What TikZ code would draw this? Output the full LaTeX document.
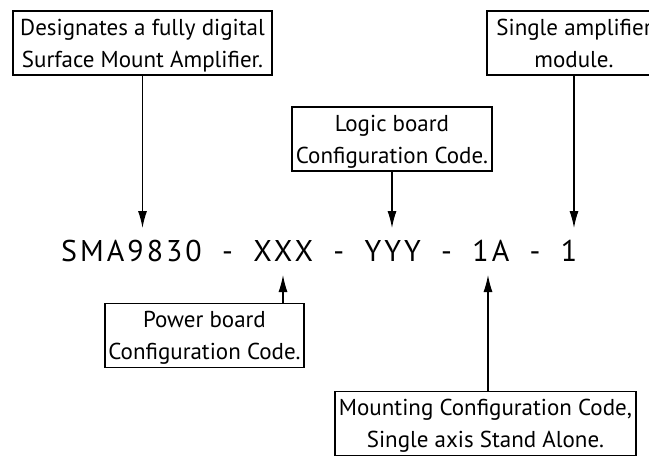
\documentclass[tikz,border=0pt]{standalone}
\usepackage{fontspec}
\setmainfont{PT Sans}
\newfontfamily\codefont[LetterSpace=10]{PT Sans}
\usetikzlibrary{arrows.meta}
\newcommand\tstr{\rule{0pt}{24pt}}
\newcommand\bstr{\rule[-8pt]{0pt}{8pt}}
\begin{document}
\begin{tikzpicture}[x=1pt,y=-1pt,
  box/.style={draw,line width=1.2pt,inner sep=0pt,align=center,
    font=\fontsize{23}{32}\selectfont},
  arr/.style={line width=1.2pt,-{Latex[length=17pt,width=9pt]}}]
\useasboundingbox (0,0) rectangle (649,456);
\clip (0,0) rectangle (649,456);
\node[box,minimum width=259pt,minimum height=64pt] (b1) at (142.5,43)
  {\tstr Designates a fully digital\\Surface Mount Amplifier.\bstr};
\node[box,minimum width=174pt,minimum height=63pt] (b2) at (574,43)
  {\tstr Single amplifier\\module.\bstr};
\node[box,minimum width=200pt,minimum height=64pt] (b3) at (392,139)
  {\tstr Logic board\\Configuration Code.\bstr};
\node[box,minimum width=199pt,minimum height=63pt] (pw) at (204.5,335.5)
  {\tstr Power board\\Configuration Code.\bstr};
\node[box,minimum width=301pt,minimum height=63pt] (mt) at (485.5,423.5)
  {\tstr Mounting Configuration Code,\\Single axis Stand Alone.\bstr};
\node[anchor=base west,inner sep=0pt,font=\codefont\fontsize{30}{36}\selectfont]
  (code) at (61,261) {\hbox to 516pt{SMA9830\hfil-\hfil XXX\hfil-\hfil YYY\hfil-\hfil 1A\hfil-\hfil 1}};
\coordinate (t1) at (142.5,228);
\coordinate (t2) at (574,228);
\coordinate (t3) at (392,228);
\coordinate (t4) at (283,275);
\coordinate (t5) at (488,275);
\draw[arr] (b1.south) -- (t1);
\draw[arr] (b2.south) -- (t2);
\draw[arr] (b3.south) -- (t3);
\draw[arr] (pw.north -| t4) -- (t4);
\draw[arr] (mt.north -| t5) -- (t5);
\end{tikzpicture}
\end{document}
